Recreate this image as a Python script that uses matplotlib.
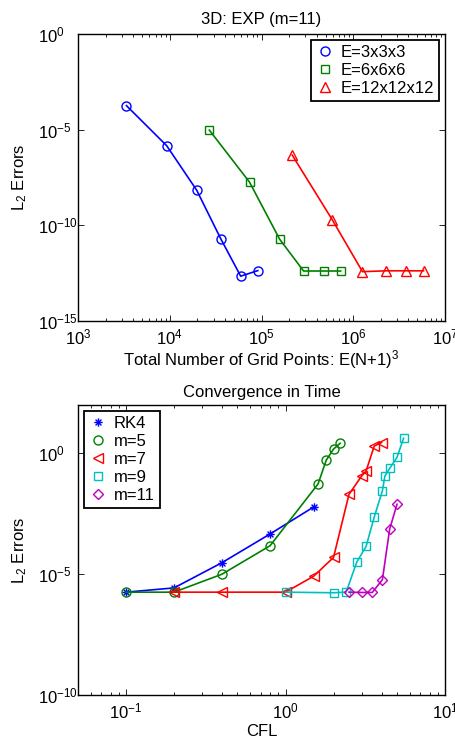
import matplotlib
matplotlib.use("Agg")
import matplotlib.pyplot as plt
from matplotlib.path import Path
from matplotlib.ticker import LogLocator, NullLocator, NullFormatter

plt.rcParams['font.family'] = ['Liberation Sans', 'DejaVu Sans']
plt.rcParams['mathtext.fontset'] = 'custom'
plt.rcParams['mathtext.rm'] = 'Liberation Sans'
plt.rcParams['mathtext.it'] = 'Liberation Sans'

# ---- Top panel data: 3D EXP (m=11) ----
top_labels = ["E=3x3x3", "E=6x6x6", "E=12x12x12"]
grid_3 = [3375, 9261, 19683, 35937, 59319, 91125]
err_3 = [1.8e-4, 1.45e-6, 6.8e-9, 2.0e-11, 2.2e-13, 4.3e-13]
grid_6 = [27000, 74088, 157464, 287496, 474552, 729000]
err_6 = [9.5e-6, 1.8e-8, 1.9e-11, 4.1e-13, 4.1e-13, 4.1e-13]
grid_12 = [216000, 592704, 1259712, 2299968, 3796416, 5832000]
err_12 = [4.7e-7, 1.9e-10, 3.8e-13, 4.2e-13, 4.2e-13, 4.2e-13]

# ---- Bottom panel data: Convergence in Time ----
bot_labels = ["RK4", "m=5", "m=7", "m=9", "m=11"]
cfl_rk4 = [0.1, 0.2, 0.4, 0.8, 1.5]
err_rk4 = [1.8e-6, 2.7e-6, 3.0e-5, 4.6e-4, 6.0e-3]
cfl_m5 = [0.1, 0.2, 0.4, 0.8, 1.6, 1.8, 2.0, 2.2]
err_m5 = [1.8e-6, 1.8e-6, 1.0e-5, 1.5e-4, 5.4e-2, 0.52, 1.5, 2.6]
cfl_m7 = [0.2, 0.4, 1.0, 1.5, 2.0, 2.5, 3.0, 3.2, 3.6, 4.0]
err_m7 = [1.8e-6, 1.8e-6, 1.8e-6, 8.2e-6, 4.9e-5, 2.0e-2, 0.115, 0.185, 2.0, 2.8]
cfl_m9 = [1.0, 2.0, 2.4, 2.8, 3.2, 3.6, 4.05, 4.2, 4.5, 5.0, 5.5]
err_m9 = [1.8e-6, 1.7e-6, 1.8e-6, 3.2e-5, 1.4e-4, 2.3e-3, 2.8e-2, 0.115, 0.24, 0.68, 4.2]
cfl_m11 = [2.5, 3.0, 3.5, 4.05, 4.5, 5.0]
err_m11 = [1.8e-6, 1.75e-6, 1.75e-6, 5.9e-6, 7.4e-4, 7.8e-3]

FS = 12

# MATLAB-style asterisk marker (+ and x combined)
d = 0.7071
ast = Path([(-1, 0), (1, 0), (0, -1), (0, 1), (-d, -d), (d, d), (-d, d), (d, -d)],
           [Path.MOVETO, Path.LINETO] * 4)

fig = plt.figure(figsize=(4.55, 7.38), dpi=100)

def style(ax):
    ax.tick_params(which='both', direction='in', top=True, right=True, labelsize=FS, width=0.6)
    ax.tick_params(which='major', length=4)
    ax.tick_params(which='minor', length=2)
    ax.tick_params(axis='y', pad=29)
    ax.tick_params(axis='x', pad=5)
    for lab in ax.get_yticklabels():
        lab.set_horizontalalignment('left')
    ax.yaxis.set_minor_locator(NullLocator())
    ax.xaxis.set_minor_locator(LogLocator(base=10, subs=range(2, 10)))
    ax.xaxis.set_minor_formatter(NullFormatter())
    for s in ax.spines.values():
        s.set_linewidth(1.0)

def legend(ax, loc):
    leg = ax.legend(loc=loc, fontsize=FS, fancybox=False, edgecolor='black',
                    framealpha=1, borderaxespad=0.35, handlelength=1.1, handletextpad=0.4,
                    borderpad=0.3, labelspacing=0.18)
    leg.get_frame().set_linewidth(1.3)
    for h in leg.get_lines():
        h.set_linestyle('none')
    return leg

ax1 = fig.add_axes([78/455, 1-321/738, 367/455, 287/738])
ax1.set_xscale('log'); ax1.set_yscale('log')
ax1.plot(grid_3, err_3, '-o', color='#0000ff', mfc='none', ms=6.5, lw=1.2, label=top_labels[0])
ax1.plot(grid_6, err_6, '-s', color='#008000', mfc='none', ms=5.5, lw=1.2, label=top_labels[1])
ax1.plot(grid_12, err_12, '-^', color='#ff0000', mfc='none', ms=7, lw=1.2, label=top_labels[2])
ax1.set_xlim(1e3, 1e7)
ax1.set_ylim(1e-15, 1e0)
ax1.set_yticks([1e-15, 1e-10, 1e-5, 1e0])
ax1.set_xticks([1e3, 1e4, 1e5, 1e6, 1e7])
style(ax1)
ax1.set_title("3D: EXP (m=11)", fontsize=FS, pad=7)
ax1.set_xlabel("Total Number of Grid Points: E(N+1)$^3$", fontsize=FS, labelpad=0)
ax1.set_ylabel("L$_2$ Errors", fontsize=FS, labelpad=6)
legend(ax1, 'upper right')

ax2 = fig.add_axes([78/455, 1-695/738, 367/455, 290/738])
ax2.set_xscale('log'); ax2.set_yscale('log')
ax2.plot(cfl_rk4, err_rk4, '-', marker=ast, color='#0000ff', ms=6, mew=1.0, lw=1.2, label=bot_labels[0])
ax2.plot(cfl_m5, err_m5, '-o', color='#008000', mfc='none', ms=6.5, lw=1.2, label=bot_labels[1])
ax2.plot(cfl_m7, err_m7, '-<', color='#ff0000', mfc='none', ms=7, lw=1.2, label=bot_labels[2])
ax2.plot(cfl_m9, err_m9, '-s', color='#00bfbf', mfc='none', ms=5.5, lw=1.2, label=bot_labels[3])
ax2.plot(cfl_m11, err_m11, '-D', color='#bf00bf', mfc='none', ms=5, lw=1.2, label=bot_labels[4])
ax2.set_xlim(0.05, 10)
ax2.set_ylim(1e-10, 1e2)
ax2.set_yticks([1e-10, 1e-5, 1e0])
ax2.set_xticks([1e-1, 1e0, 1e1])
style(ax2)
ax2.set_title("Convergence in Time", fontsize=FS, pad=6)
ax2.set_xlabel("CFL", fontsize=FS, labelpad=1.5)
ax2.set_ylabel("L$_2$ Errors", fontsize=FS, labelpad=6)
legend(ax2, 'upper left')

fig.savefig("out.png", dpi=100)
